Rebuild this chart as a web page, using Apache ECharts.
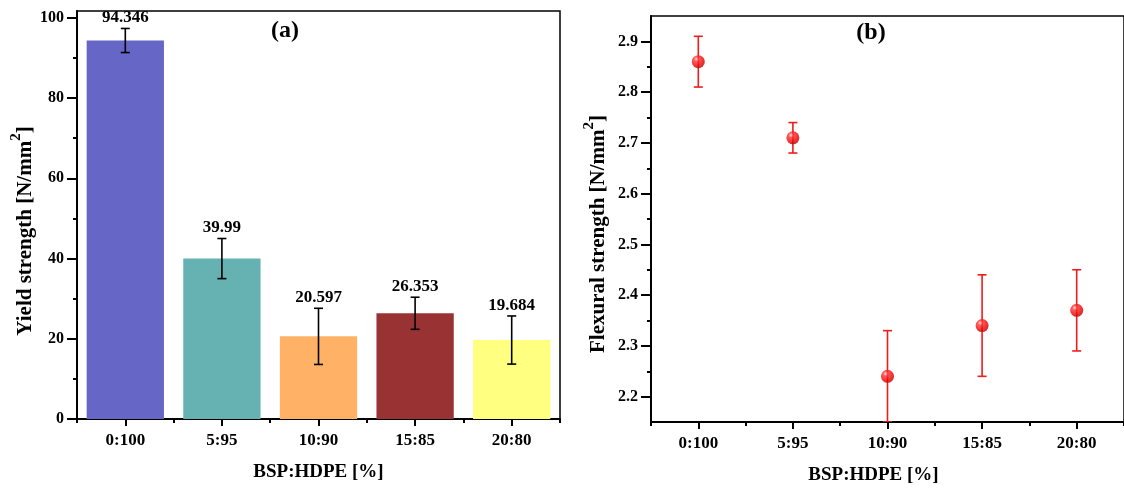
<!DOCTYPE html>
<html><head><meta charset="utf-8">
<script src="https://cdn.jsdelivr.net/npm/echarts@6/dist/echarts.min.js"></script>
<style>html,body{margin:0;padding:0;background:#fff}#c{width:1124px;height:490px}</style>
</head><body><div id="c"></div>
<script>
const categories = ['0:100', '5:95', '10:90', '15:85', '20:80'];
const yieldValues = [94.346, 39.99, 20.597, 26.353, 19.684];
const yieldErrors = [3.0, 5.0, 7.0, 4.0, 6.0];
const yieldLabels = ['94.346', '39.99', '20.597', '26.353', '19.684'];
const flexValues = [2.86, 2.71, 2.24, 2.34, 2.37];
const flexErrors = [0.05, 0.03, 0.09, 0.10, 0.08];
const yieldTicks = [0, 20, 40, 60, 80, 100];
const yieldMinorTicks = [10, 30, 50, 70, 90];
const flexTicks = [2.2, 2.3, 2.4, 2.5, 2.6, 2.7, 2.8, 2.9];
const flexMinorTicks = [2.25, 2.35, 2.45, 2.55, 2.65, 2.75, 2.85];
const barColors = ['#6666C6', '#66B2B2', '#FFB266', '#993333', '#FFFF80'];

const F = '"Liberation Serif", "Times New Roman", serif';
const chart = echarts.init(document.getElementById('c'), null, {renderer: 'canvas'});

function errRender(color, cap, withLabel) {
  return function (params, api) {
    const i = api.value(0), lo = api.value(1), hi = api.value(2);
    const top = api.coord([i, hi]), bot = api.coord([i, lo]);
    const x = top[0];
    const st = {stroke: color, lineWidth: 1.6};
    const children = [
      {type: 'line', shape: {x1: x, y1: top[1], x2: x, y2: bot[1]}, style: st},
      {type: 'line', shape: {x1: x - cap, y1: top[1], x2: x + cap, y2: top[1]}, style: st},
      {type: 'line', shape: {x1: x - cap, y1: bot[1], x2: x + cap, y2: bot[1]}, style: st}
    ];
    if (withLabel) {
      children.push({type: 'text', x: x, y: top[1] - 2,
        style: {text: yieldLabels[i], fill: '#000', font: 'bold 17px ' + F, align: 'center', verticalAlign: 'bottom'}});
    }
    return {type: 'group', children: children};
  };
}

const nameRich = {
  t: {fontSize: 21, fontWeight: 'bold', fontFamily: F, color: '#000', lineHeight: 34},
  s: {fontSize: 15, fontWeight: 'bold', fontFamily: F, color: '#000', lineHeight: 20, verticalAlign: 'top'}
};
const axisLineStyle = {show: true, lineStyle: {color: '#000', width: 2}};

const option = {
  animation: false,
  backgroundColor: '#fff',
  graphic: [
    {type: 'text', x: 285, y: 31, style: {text: '(a)', font: 'bold 24px ' + F, fill: '#000', align: 'center', verticalAlign: 'middle'}},
    {type: 'text', x: 871, y: 33, style: {text: '(b)', font: 'bold 24px ' + F, fill: '#000', align: 'center', verticalAlign: 'middle'}}
  ],
  grid: [
    {left: 77, top: 11, width: 483, height: 408, show: true, borderColor: '#000', borderWidth: 1.5, backgroundColor: 'transparent'},
    {left: 651, top: 16, width: 480, height: 406, show: true, borderColor: '#000', borderWidth: 1.5, backgroundColor: 'transparent'}
  ],
  xAxis: [
    {type: 'category', gridIndex: 0, position: 'bottom', data: categories, boundaryGap: true,
     axisLine: axisLineStyle, axisTick: {show: true, alignWithLabel: true, length: 7, lineStyle: {color: '#000', width: 2}},
     axisLabel: {color: '#000', fontSize: 17, fontWeight: 'bold', fontFamily: F, margin: 13},
     name: 'BSP:HDPE [%]', nameLocation: 'middle', nameGap: 44,
     nameTextStyle: {color: '#000', fontSize: 19, fontWeight: 'bold', fontFamily: F}},
    {type: 'category', gridIndex: 0, position: 'bottom', data: categories, boundaryGap: true,
     axisLine: {show: false}, axisTick: {show: true, length: 4, lineStyle: {color: '#000', width: 2}},
     axisLabel: {show: false}},
    {type: 'category', gridIndex: 1, position: 'bottom', data: categories, boundaryGap: true,
     axisLine: axisLineStyle, axisTick: {show: true, alignWithLabel: true, length: 7, lineStyle: {color: '#000', width: 2}},
     axisLabel: {color: '#000', fontSize: 17, fontWeight: 'bold', fontFamily: F, margin: 13},
     name: 'BSP:HDPE [%]', nameLocation: 'middle', nameGap: 44,
     nameTextStyle: {color: '#000', fontSize: 19, fontWeight: 'bold', fontFamily: F, padding: [0, 28, 0, 0]}},
    {type: 'category', gridIndex: 1, position: 'bottom', data: categories, boundaryGap: true,
     axisLine: {show: false}, axisTick: {show: true, length: 4, lineStyle: {color: '#000', width: 2}},
     axisLabel: {show: false}}
  ],
  yAxis: [
    {type: 'value', gridIndex: 0, position: 'left', min: 0, max: 101.7,
     axisLine: axisLineStyle, splitLine: {show: false},
     axisTick: {show: true, length: 10, customValues: yieldTicks, lineStyle: {color: '#000', width: 2}},
     axisLabel: {color: '#000', fontSize: 16, fontWeight: 'bold', fontFamily: F, margin: 13, customValues: yieldTicks},
     name: '{t|Yield strength [N/mm}{s|2}{t|]}', nameLocation: 'middle', nameGap: 33,
     nameTextStyle: {rich: nameRich, padding: [0, 32, 0, 0]}},
    {type: 'value', gridIndex: 0, position: 'left', min: 0, max: 101.7,
     axisLine: {show: false}, splitLine: {show: false},
     axisTick: {show: true, length: 4, customValues: yieldMinorTicks, lineStyle: {color: '#000', width: 2}},
     axisLabel: {show: false}},
    {type: 'value', gridIndex: 1, position: 'left', min: 2.15, max: 2.95,
     axisLine: axisLineStyle, splitLine: {show: false},
     axisTick: {show: true, length: 10, customValues: flexTicks, lineStyle: {color: '#000', width: 2}},
     axisLabel: {color: '#000', fontSize: 16, fontWeight: 'bold', fontFamily: F, margin: 13, customValues: flexTicks,
       formatter: v => v.toFixed(1)},
     name: '{t|Flexural strength [N/mm}{s|2}{t|]}', nameLocation: 'middle', nameGap: 35,
     nameTextStyle: {rich: nameRich, padding: [0, 30, 0, 0]}},
    {type: 'value', gridIndex: 1, position: 'left', min: 2.15, max: 2.95,
     axisLine: {show: false}, splitLine: {show: false},
     axisTick: {show: true, length: 4, customValues: flexMinorTicks, lineStyle: {color: '#000', width: 2}},
     axisLabel: {show: false}}
  ],
  series: [
    {type: 'bar', xAxisIndex: 0, yAxisIndex: 0, barWidth: '80%',
     data: yieldValues.map((v, i) => ({value: v, itemStyle: {color: barColors[i]}}))},
    {type: 'custom', xAxisIndex: 0, yAxisIndex: 0, z: 5,
     renderItem: errRender('#000', 4.5, true),
     encode: {x: 0, y: [1, 2]},
     data: yieldValues.map((v, i) => [i, v - yieldErrors[i], v + yieldErrors[i]])},
    {type: 'custom', xAxisIndex: 2, yAxisIndex: 2, z: 3, clip: true,
     renderItem: errRender('#EE1C1C', 4.5, false),
     encode: {x: 0, y: [1, 2]},
     data: flexValues.map((v, i) => [i, v - flexErrors[i], v + flexErrors[i]])},
    {type: 'scatter', xAxisIndex: 2, yAxisIndex: 2, z: 6, symbol: 'circle', symbolSize: 13,
     itemStyle: {color: {type: 'radial', x: 0.35, y: 0.3, r: 0.75, colorStops: [
       {offset: 0, color: '#ffd6d6'}, {offset: 0.25, color: '#ff3030'}, {offset: 0.7, color: '#ee0000'}, {offset: 1, color: '#b00000'}]}},
     data: flexValues}
  ]
};
chart.setOption(option);
</script>
</body></html>
